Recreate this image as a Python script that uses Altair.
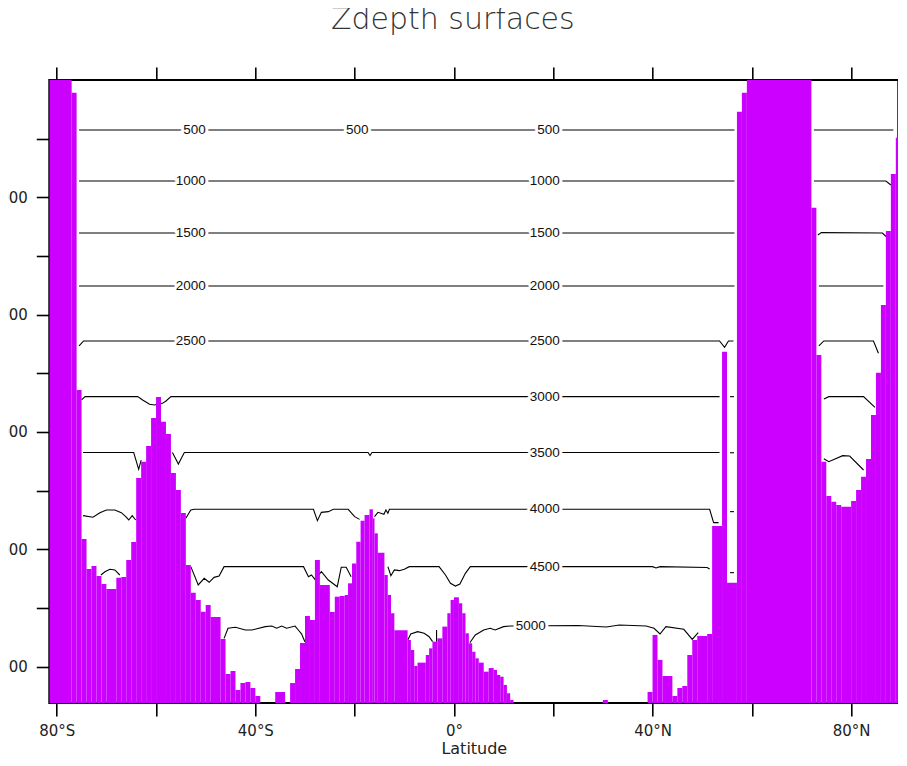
import altair as alt
import pandas as pd

# ---------------- texts ----------------
title_text = "Zdepth surfaces"
x_title = "Latitude"

# ---------------- axis ranges (latitude, depth-axis units; 0 at top) ----------------
lat_min, lat_max = -81.5, 89.5
y_bottom = 5310
x_tick_values = list(range(-80, 81, 20))
y_tick_values = list(range(500, 5001, 500))

# ---------------- topography (lat start, lat end, top of land) ----------------
topo_south = [
    (-81.5, -77, 0), (-77, -76, 108), (-76, -75, 2642), (-75, -74, 3912),
    (-74, -73, 4168), (-73, -72, 4142), (-72, -71, 4227), (-71, -70, 4296),
    (-70, -68, 4338), (-68, -67, 4242), (-67, -66, 4236), (-66, -65, 4091),
    (-65, -64, 3938), (-64, -63, 3392), (-63, -62, 3253), (-62, -61, 3119),
    (-61, -60, 2881), (-60, -59, 2702), (-59, -58, 2912), (-58, -57, 3017),
    (-57, -56, 3350), (-56, -55, 3494), (-55, -54, 3690), (-54, -53, 4134),
    (-53, -52, 4370), (-52, -51, 4432), (-51, -50, 4532), (-50, -49, 4475),
    (-49, -47, 4577), (-47, -46, 4764), (-46, -45, 5063), (-45, -44, 5037),
    (-44, -43, 5199), (-43, -42, 5139), (-42, -41, 5131), (-41, -40, 5182),
    (-40, -39, 5250), (-36, -34, 5216), (-33, -32, 5140), (-32, -31, 5020),
    (-31, -30, 4798), (-30, -29, 4568), (-29, -28, 4602), (-28, -27, 4091),
    (-27, -25, 4304), (-25, -24, 4534), (-24, -23, 4404), (-23, -22, 4398),
]
topo_equator = [
    (-22.0, -21.33, 4389), (-21.33, -20.53, 4290), (-20.53, -19.67, 4120),
    (-19.67, -18.8, 3935), (-18.8, -18.0, 3756), (-18.0, -17.0, 3707),
    (-17.0, -16.33, 3659), (-16.33, -16.0, 3736), (-16.0, -15.33, 3864),
    (-15.33, -14.0, 4029), (-14.0, -13.33, 4219), (-13.33, -12.67, 4389),
    (-12.67, -12.0, 4545), (-12.0, -9.33, 4690), (-9.33, -8.67, 4773),
    (-8.67, -8.0, 4858), (-8.0, -7.33, 4994), (-7.33, -5.67, 4966),
    (-5.67, -5.0, 4901), (-5.0, -4.33, 4844), (-4.33, -3.33, 4787),
    (-3.33, -2.33, 4759), (-2.33, -1.33, 4659), (-1.33, -0.67, 4545),
    (-0.67, 0.0, 4432), (0.0, 1.0, 4409), (1.0, 1.67, 4460), (1.67, 2.33, 4545),
    (2.33, 3.0, 4716), (3.0, 3.67, 4801), (3.67, 4.33, 4873), (4.33, 5.0, 4929),
    (5.0, 6.0, 4966), (6.0, 7.0, 5043), (7.0, 8.0, 5012), (8.0, 8.67, 5028),
    (8.67, 9.33, 5071), (9.33, 10.0, 5086), (10.0, 10.67, 5156),
    (10.67, 11.33, 5227), (11.33, 12.0, 5284),
]
topo_north = [
    (30, 31, 5284), (39, 40, 5216), (40, 41, 4730), (41, 42, 4943),
    (42, 44, 5080), (44, 45, 5250), (45, 46, 5182), (46, 47, 5165),
    (47, 48, 4901), (48, 49, 4773), (49, 51, 4739), (51, 52, 4722),
    (52, 54, 3801), (54, 55, 2316), (55, 57, 4285), (57, 58, 270),
    (58, 59, 108), (59, 72, 0), (72, 73, 1088), (73, 74, 2344),
    (74, 75, 3253), (75, 76, 3546), (76, 77, 3594), (77, 78, 3622),
    (78, 80, 3637), (80, 81, 3588), (81, 82, 3494), (82, 83, 3381),
    (83, 84, 3230), (84, 85, 2855), (85, 86, 2495), (86, 87, 1918),
    (87, 88, 1287), (88, 89, 801), (89, 89.5, 492),
]

# ---------------- depth-surface contours: segments of (lat, y) ----------------
c500 = [
    [(-75.5, 426), (56.5, 426)],
    [(72.5, 426), (88.5, 426)],
]
c1000 = [
    [(-75.5, 861), (56.5, 861)],
    [(72.5, 861), (87.0, 861), (88.0, 895)],
]
c1500 = [
    [(-75.5, 1304), (56.5, 1304)],
    [(73.3, 1321), (74.0, 1301), (86.3, 1304), (87.1, 1336)],
]
c2000 = [
    [(-75.5, 1756), (56.5, 1756)],
    [(73.5, 1756), (86.5, 1756)],
]
c2500 = [
    [(-75.5, 2267), (-74.6, 2224), (53.5, 2224), (54.5, 2278), (55.3, 2224), (56.3, 2224)],
    [(73.5, 2267), (74.5, 2224), (84.5, 2224), (85.5, 2329)],
]
c3000 = [
    [(-75.0, 2727), (-74.3, 2699), (-63.7, 2699), (-62.7, 2727), (-61.3, 2764),
     (-60.3, 2770), (-58.7, 2756), (-58.0, 2736), (-57.0, 2699), (53.5, 2699)],
    [(55.6, 2699), (56.4, 2699)],
    [(74.5, 2719), (75.5, 2699), (82.5, 2699), (84.8, 2790)],
]
c3500 = [
    [(-74.7, 3175), (-64.5, 3175), (-63.5, 3318), (-63.0, 3239)],
    [(-56.7, 3175), (-55.5, 3273), (-54.3, 3175), (-17.3, 3175), (-16.9, 3200),
     (-16.5, 3175), (53.5, 3175)],
    [(55.6, 3177), (56.4, 3177)],
    [(74.5, 3229), (75.5, 3253), (78.3, 3202), (79.7, 3205), (82.5, 3324)],
]
c4000 = [
    [(-74.7, 3713), (-72.7, 3727), (-71.3, 3688), (-70.0, 3665), (-68.3, 3665),
     (-67.0, 3688), (-66.1, 3722), (-65.5, 3750), (-64.8, 3713), (-64.1, 3750)],
    [(-54.0, 3736), (-53.0, 3665), (-52.3, 3659), (-28.3, 3659), (-27.5, 3756),
     (-26.7, 3685), (-25.3, 3679), (-24.3, 3659), (-21.3, 3659), (-20.0, 3722),
     (-19.0, 3745)],
    [(-16.0, 3722), (-15.3, 3685), (-14.1, 3702), (-13.7, 3665), (-13.3, 3693),
     (-13.0, 3659), (51.5, 3659), (52.3, 3773), (53.3, 3773)],
    [(55.6, 3679), (56.4, 3679)],
]
c4500 = [
    [(-71.1, 4219), (-70.3, 4191), (-69.3, 4170), (-68.3, 4176), (-67.3, 4219)],
    [(-53.0, 4148), (-51.5, 4304), (-50.3, 4247), (-49.3, 4281), (-48.3, 4239),
     (-47.3, 4228), (-46.3, 4148), (-30.3, 4148), (-29.3, 4233), (-28.7, 4219),
     (-28.0, 4256), (-26.7, 4191), (-25.3, 4262), (-23.5, 4319), (-22.7, 4153),
     (-21.7, 4153), (-20.7, 4233)],
    [(-13.3, 4148), (-12.7, 4225), (-12.0, 4176), (-11.0, 4182), (-10.0, 4170),
     (-9.0, 4148), (-3.0, 4148), (-1.7, 4219), (-0.7, 4290), (0.3, 4313),
     (1.2, 4296), (2.3, 4205), (3.3, 4148), (40.0, 4148), (40.7, 4159),
     (41.5, 4148), (51.0, 4155), (51.5, 4168)],
    [(55.6, 4199), (56.4, 4199)],
]
c5000 = [
    [(-46.3, 4759), (-45.5, 4673), (-44.0, 4665), (-42.0, 4688), (-40.7, 4688),
     (-38.0, 4659), (-36.7, 4654), (-35.7, 4673), (-34.7, 4654), (-33.7, 4673),
     (-32.0, 4654), (-31.3, 4690), (-30.7, 4720), (-30.0, 4790)],
    [(-9.3, 4773), (-8.7, 4722), (-7.3, 4702), (-6.0, 4716), (-5.0, 4745), (-4.3, 4787)],
    [(-3.5, 4688), (-3.5, 4787)],
    [(3.2, 4796), (4.3, 4730), (6.0, 4688), (7.3, 4673), (8.3, 4688), (10.0, 4659),
     (11.3, 4654), (25.0, 4650), (30.7, 4662), (33.3, 4645), (38.7, 4654),
     (40.3, 4673), (41.5, 4722), (42.7, 4659), (46.3, 4682), (48.0, 4767), (49.2, 4710)],
]
contours = {500: c500, 1000: c1000, 1500: c1500, 2000: c2000, 2500: c2500,
            3000: c3000, 3500: c3500, 4000: c4000, 4500: c4500, 5000: c5000}

# ---------------- contour labels (right edge latitude) ----------------
label_levels = [500, 1000, 1500, 2000, 2500,
                500,
                500, 1000, 1500, 2000, 2500, 3000, 3500, 4000, 4500,
                5000]
label_lats = [-50.0, -50.0, -50.0, -50.0, -50.0,
              -17.2,
              21.3, 21.3, 21.3, 21.3, 21.3, 21.3, 21.3, 21.3, 21.3,
              18.5]
level_y = {500: 426, 1000: 861, 1500: 1304, 2000: 1756, 2500: 2224,
           3000: 2699, 3500: 3175, 4000: 3659, 4500: 4148, 5000: 4654}

# ---------------- build tables ----------------
topo = pd.DataFrame(topo_south + topo_equator + topo_north, columns=["lat0", "lat1", "top"])
topo["bottom"] = y_bottom

rows = []
for level, segs in contours.items():
    for i, seg in enumerate(segs):
        for j, (lat, yv) in enumerate(seg):
            rows.append({"seg": f"{level}-{i}", "lat": lat, "y": yv, "ord": j})
lines_df = pd.DataFrame(rows)

labels_df = pd.DataFrame({
    "lat": label_lats,
    "y": [level_y[v] for v in label_levels],
    "text": [str(v) for v in label_levels],
})

xscale = alt.Scale(domain=[lat_min, lat_max], nice=False, zero=False)
yscale = alt.Scale(domain=[0, y_bottom], reverse=True, nice=False, zero=False)

lab_expr = ("datum.value % 40 != 0 ? '' : (datum.value == 0 ? '0°' : "
            "(datum.value < 0 ? (-datum.value) + '°S' : datum.value + '°N'))")

x_axis_bottom = alt.Axis(
    values=x_tick_values, labelExpr=lab_expr, tickSize=13, tickWidth=1.6,
    tickColor="black", domain=False, grid=False, labelFont="DejaVu Sans",
    labelFontSize=15, labelColor="#222", labelPadding=8, labelFlush=False,
    title=x_title, titleFont="DejaVu Sans", titleFontSize=16,
    titleFontWeight="normal", titleColor="#222", titlePadding=2,
)
y_axis_left = alt.Axis(
    values=y_tick_values, labelExpr="datum.value % 1000 == 0 ? '' + datum.value : ''",
    tickSize=13, tickWidth=1.6, tickColor="black", domain=False, grid=False,
    labelFont="DejaVu Sans", labelFontSize=15, labelColor="#222", labelPadding=9,
    title=None,
)

lines = alt.Chart(lines_df).mark_line(color="black", strokeWidth=1.1, clip=True).encode(
    x=alt.X("lat:Q", scale=xscale, axis=x_axis_bottom),
    y=alt.Y("y:Q", scale=yscale, axis=y_axis_left),
    detail="seg:N",
    order="ord:Q",
)

bars = alt.Chart(topo).mark_rect(color="#cc00ff", clip=True).encode(
    x=alt.X("lat0:Q", scale=xscale, axis=None),
    x2="lat1:Q",
    y=alt.Y("top:Q", scale=yscale, axis=None),
    y2="bottom:Q",
)

halo = alt.Chart(labels_df).mark_text(
    align="right", baseline="middle", font="Liberation Sans", fontSize=13.5,
    fill="white", stroke="white", strokeWidth=6, strokeJoin="round",
).encode(
    x=alt.X("lat:Q", scale=xscale, axis=None),
    y=alt.Y("y:Q", scale=yscale, axis=None),
    text="text:N",
)
texts = alt.Chart(labels_df).mark_text(
    align="right", baseline="middle", font="Liberation Sans", fontSize=13.5,
    color="#111",
).encode(
    x=alt.X("lat:Q", scale=xscale, axis=None),
    y=alt.Y("y:Q", scale=yscale, axis=None),
    text="text:N",
)

frame_axes = alt.Chart(lines_df).mark_point(opacity=0).encode(
    x=alt.X("lat:Q", scale=xscale, axis=alt.Axis(
        orient="top", values=x_tick_values, labels=False, tickSize=13,
        tickWidth=1.6, tickColor="black", domain=False, grid=False, title=None)),
    y=alt.Y("y:Q", scale=yscale, axis=alt.Axis(
        orient="right", values=y_tick_values, labels=False, tickSize=13,
        tickWidth=1.6, tickColor="black", domain=False, grid=False, title=None)),
)

chart = alt.layer(lines, bars, halo, texts, frame_axes).resolve_axis(
    x="independent", y="independent"
).properties(
    width=849,
    height=623,
    title=alt.TitleParams(
        title_text, font="DejaVu Sans", fontSize=30, fontWeight=200,
        color="#333", anchor="middle", frame="group", offset=31, dx=-21,
    ),
    autosize=alt.AutoSizeParams(type="none"),
    padding={"left": 41.3, "top": 72, "right": 0, "bottom": 55},
).configure_view(stroke="black", strokeWidth=2)

chart.save("out.html", embed_options={"renderer": "svg", "actions": False})
